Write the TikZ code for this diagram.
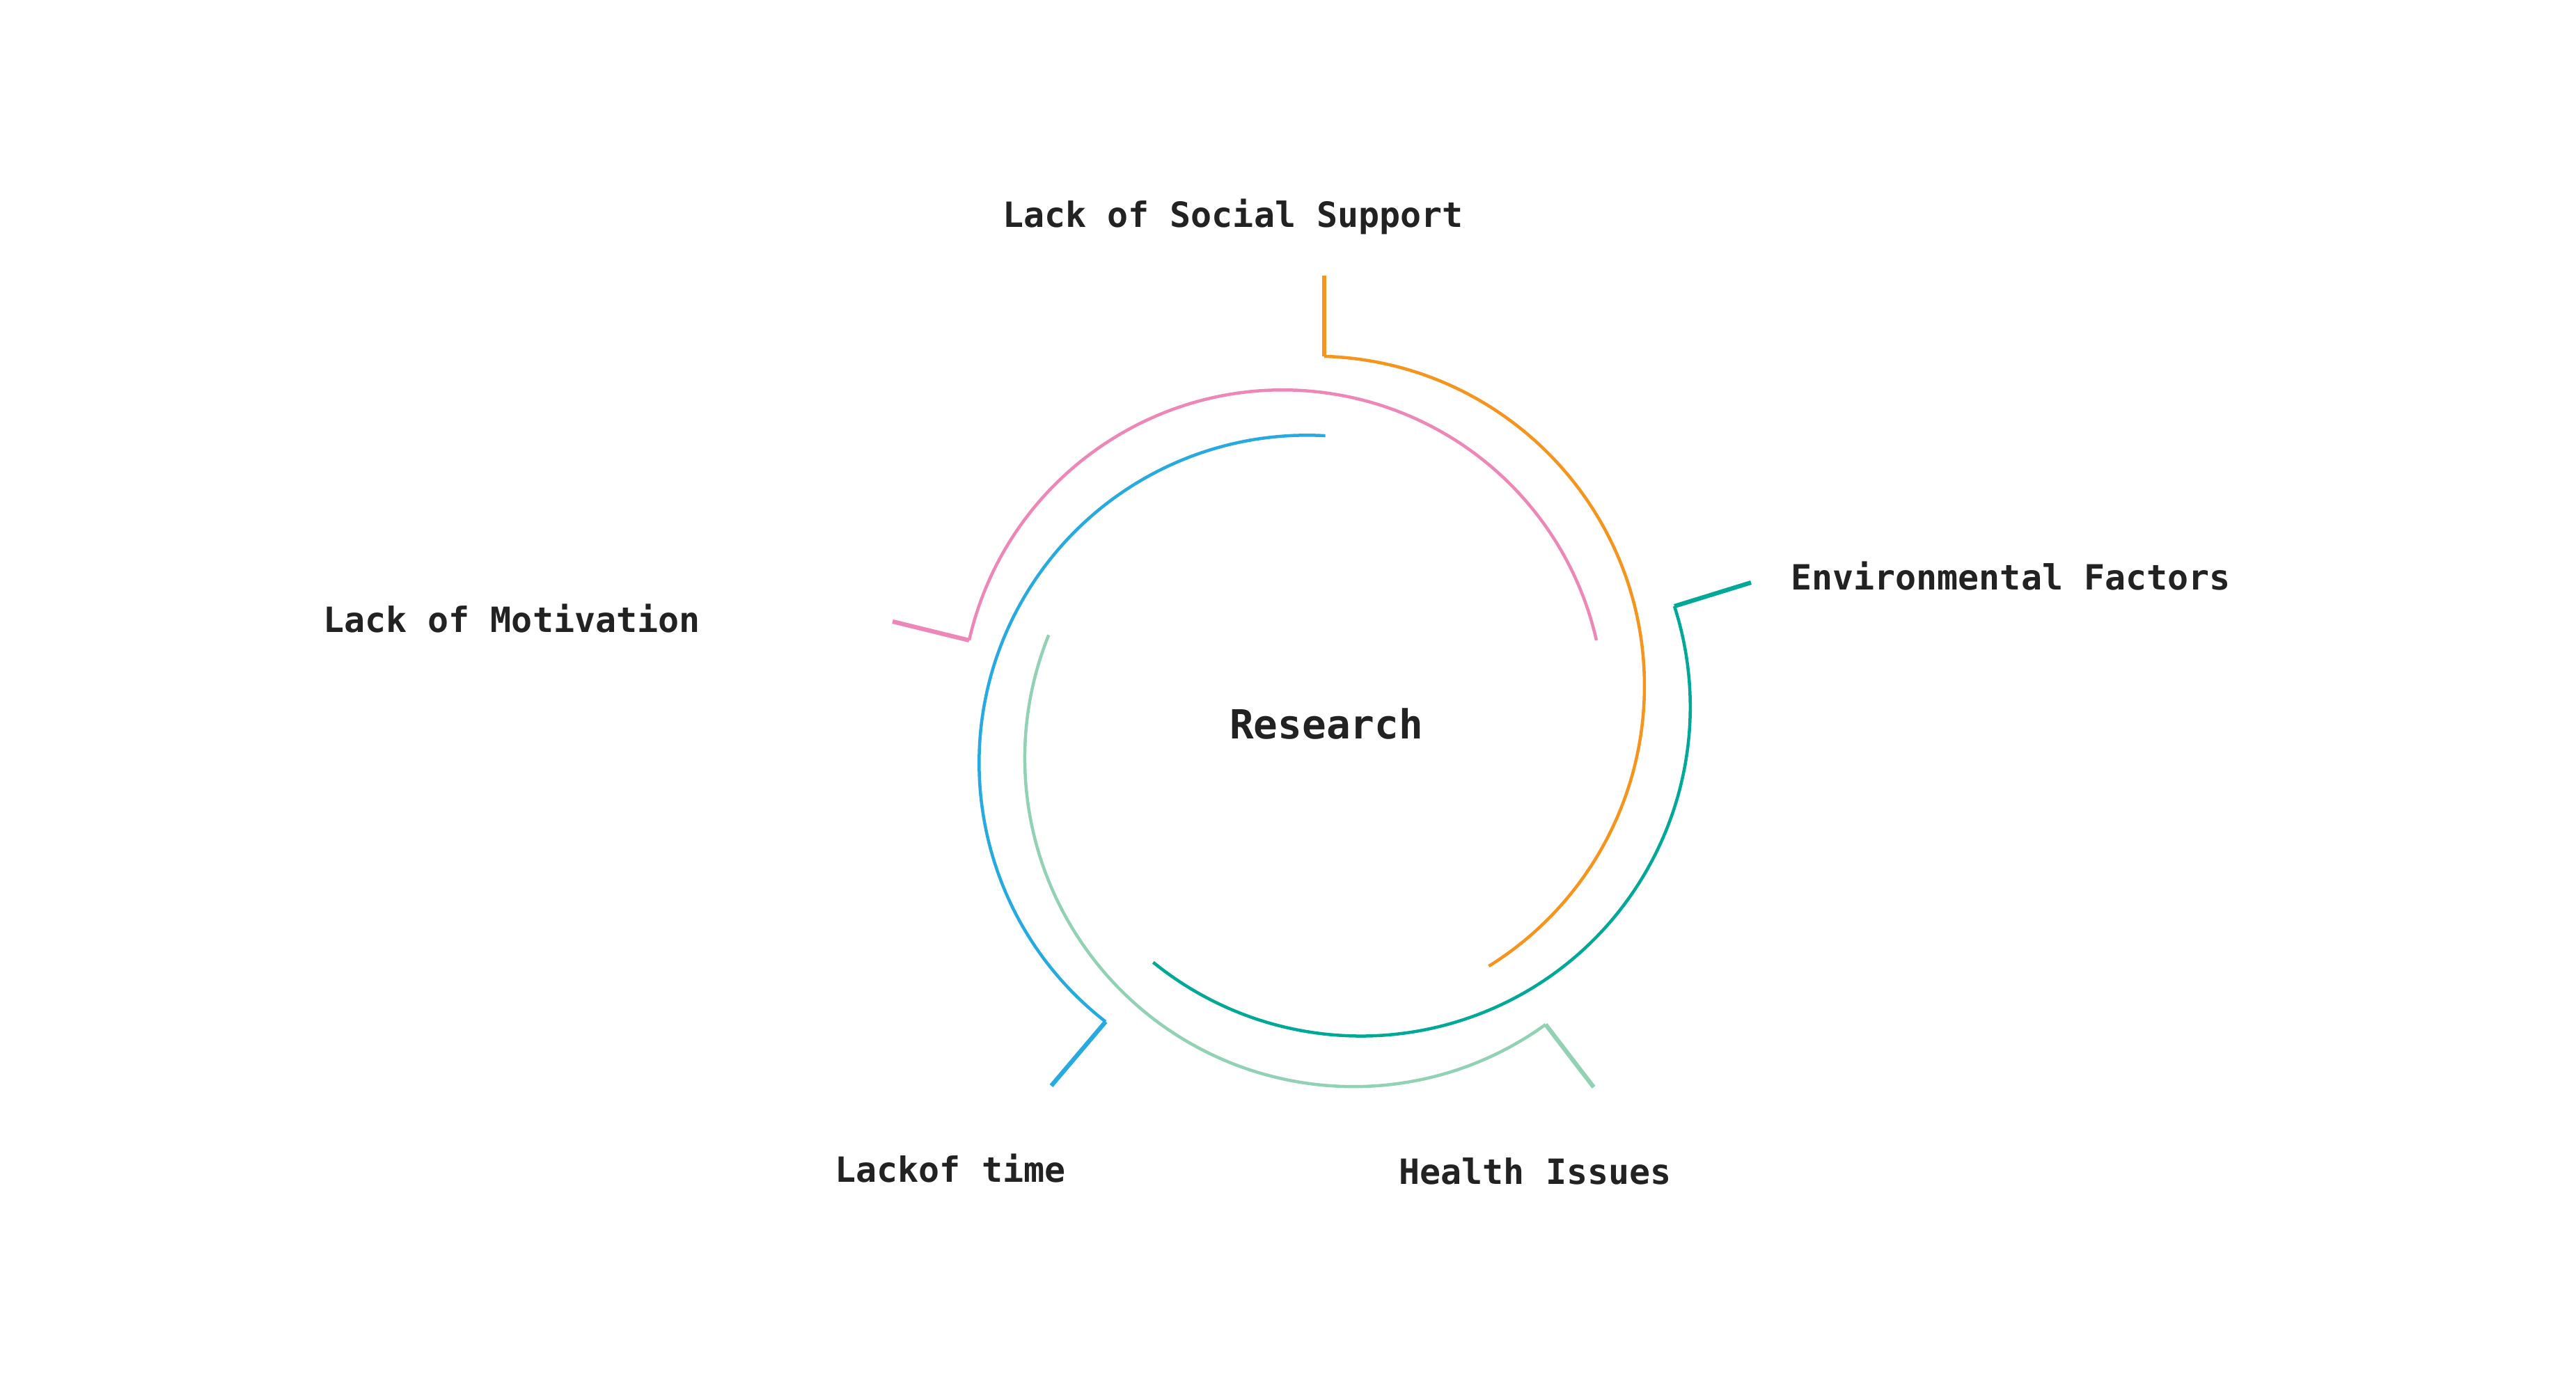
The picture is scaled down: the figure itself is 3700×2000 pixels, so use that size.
\documentclass[tikz,border=0pt]{standalone}
\usepackage{fontspec}
\newfontfamily\labfont{DejaVu Sans Mono}
\definecolor{cOrange}{RGB}{247,148,30}
\definecolor{cPink}{RGB}{239,134,184}
\definecolor{cBlue}{RGB}{39,170,225}
\definecolor{cTeal}{RGB}{0,168,152}
\definecolor{cMint}{RGB}{146,210,180}
\definecolor{cText}{RGB}{34,34,34}
\begin{document}
\begin{tikzpicture}[x=0.01cm,y=0.01cm,
  arcline/.style={line width=0.045cm},
  lead/.style={line width=0.062cm},
  lab/.style={anchor=base,inner sep=0pt,text=cText,font=\labfont\bfseries\fontsize{14.2pt}{17pt}\selectfont},
  hub/.style={anchor=base,inner sep=0pt,text=cText,font=\labfont\bfseries\fontsize{16.4pt}{19pt}\selectfont}]
\useasboundingbox[fill=white] (0,0) rectangle (3700,2000);

% labels
\node[hub] (research) at (1905,938) {Research};
\node[lab] (lss) at (1771,1673) {Lack of Social Support};
\node[lab] (env) at (2888,1152) {Environmental Factors};
\node[lab] (mot) at (735,1091) {Lack of Motivation};
\node[lab] (time) at (1365,301) {Lackof time};
\node[lab] (health) at (2205,298) {Health Issues};

% leader coordinates
\coordinate (oEnd) at (1902,1604);
\coordinate (oCorner) at (1902,1488);
\coordinate (pEnd) at (1282,1107);
\coordinate (pCorner) at (1392,1080);
\coordinate (bEnd) at (1510,440);
\coordinate (bCorner) at (1588,532);
\coordinate (tEnd) at (2515,1163);
\coordinate (tCorner) at (2405,1129);
\coordinate (gEnd) at (2289,438);
\coordinate (gCorner) at (2220,528);

% orange
\draw[cOrange,lead] (oEnd) -- (oCorner);
\draw[cOrange,arcline] (oCorner) arc[start angle=88.3,end angle=-58.1,radius=474];
% pink
\draw[cPink,lead] (pEnd) -- (pCorner);
\draw[cPink,arcline] (pCorner) arc[start angle=167.2,end angle=12.8,radius=462];
% blue
\draw[cBlue,lead] (bEnd) -- (bCorner);
\draw[cBlue,arcline] (bCorner) arc[start angle=232.1,end angle=86.8,radius=471];
% teal
\draw[cTeal,lead] (tEnd) -- (tCorner);
\draw[cTeal,arcline] (tCorner) arc[start angle=17.8,end angle=-129.1,radius=473];
% mint
\draw[cMint,lead] (gEnd) -- (gCorner);
\draw[cMint,arcline] (gCorner) arc[start angle=-54.2,end angle=-202,radius=472];
\end{tikzpicture}
\end{document}
